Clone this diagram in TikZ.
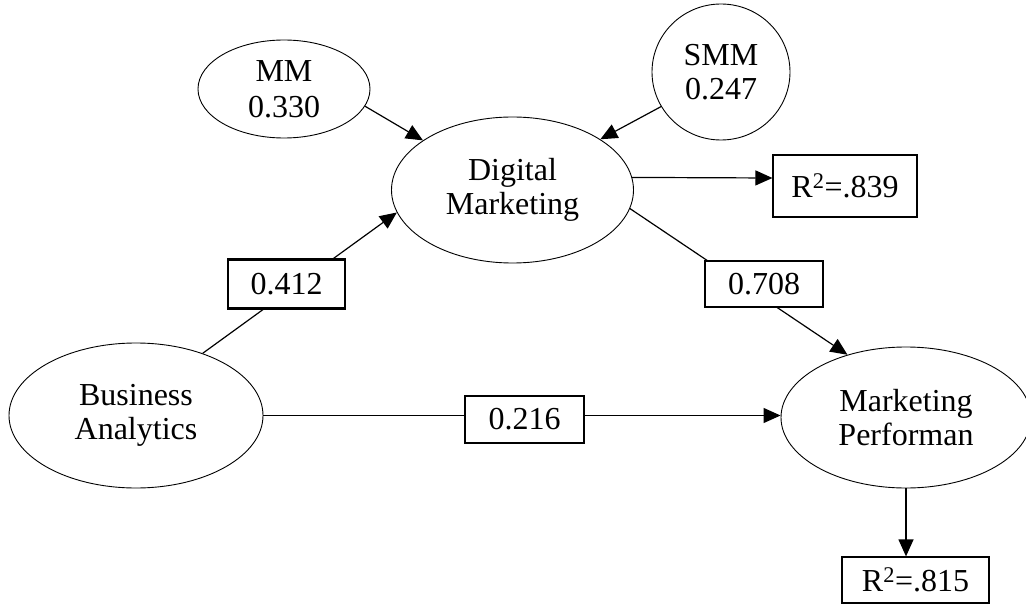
\documentclass[tikz,border=0pt]{standalone}
\usepackage{fontspec}
\setmainfont{Liberation Serif}
\usetikzlibrary{arrows.meta,shapes.geometric}
\begin{document}
\begin{tikzpicture}[x=1pt,y=-1pt,
  font=\fontsize{32}{34}\selectfont,
  ell/.style={draw, ellipse, line width=0.9pt, inner sep=0pt, align=center},
  valbox/.style={draw, rectangle, line width=2.4pt, fill=white, inner sep=0pt},
  rbox/.style={draw, rectangle, line width=1.2pt, fill=white, inner sep=0pt},
  arr/.style={line width=1.2pt, -{Triangle[length=17pt,width=15pt]}}]
\useasboundingbox (0,0) rectangle (1026,604);
% constructs
\node[ell, minimum width=172pt, minimum height=98pt] (mm) at (284,89) {MM\\[2pt]0.330};
\node[ell, minimum width=138pt, minimum height=136pt] (smm) at (721,72) {SMM\\0.247};
\node[ell, minimum width=242pt, minimum height=146pt] (dm) at (512.5,190) {Digital\\Marketing};
\node[ell, minimum width=254pt, minimum height=145pt] (ba) at (136,415.5) {Business\\Analytics};
\node[ell, minimum width=250pt, minimum height=141pt] (mp) at (906,417.5) {Marketing\\Performan};
% R-squared boxes
\node[rbox, minimum width=144pt, minimum height=62pt] (r839) at (845,186) {R\textsuperscript{2}=.839};
\node[rbox, minimum width=147pt, minimum height=46pt] (r815) at (915.5,580) {R\textsuperscript{2}=.815};
% connectors
\draw[arr] (mm.-12.5) -- (dm.151.7);
\draw[arr] (smm.210.5) -- (dm.30.7);
\draw[arr] (dm.6) -- ([yshift=8pt]r839.west);
\draw[arr] (ba.43) -- (dm.191.9);
\draw[arr] (dm.-9) -- (mp.133.4);
\draw[arr] (ba.east) -- (ba.east -| mp.west);
\draw[arr] (mp.south) -- (mp.south |- r815.north);
% path coefficients
\node[valbox, minimum width=117pt, minimum height=49pt] (p412) at (286.5,284) {0.412};
\node[valbox, minimum width=118pt, minimum height=46pt] (p708) at (764,284) {0.708};
\node[valbox, minimum width=119pt, minimum height=47pt] (p216) at (524.5,419.5) {0.216};
\end{tikzpicture}
\end{document}
